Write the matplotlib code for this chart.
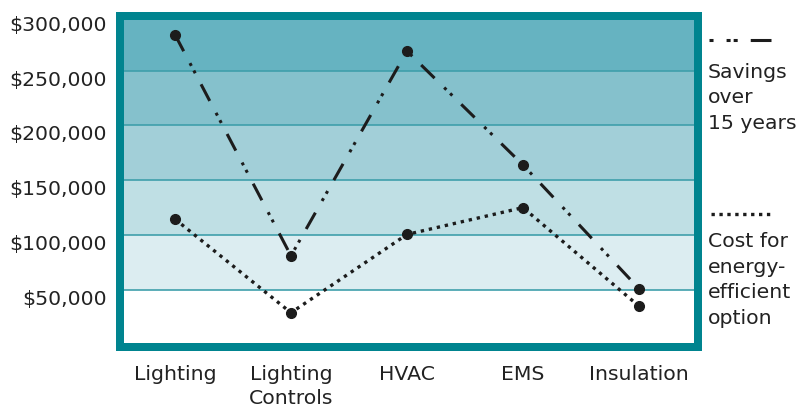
import matplotlib
matplotlib.use("Agg")
import matplotlib.pyplot as plt
from matplotlib.transforms import ScaledTranslation

# --- Dados ---
categorias = ["Lighting", "Lighting\nControls", "HVAC", "EMS", "Insulation"]
economia_15_anos = [283000, 81000, 268000, 164000, 51000]
custo_eficiente = [114500, 29000, 100500, 125000, 35000]
ticks_y = [50000, 100000, 150000, 200000, 250000, 300000]
rotulos_y = ["$50,000", "$100,000", "$150,000", "$200,000", "$250,000", "$300,000"]
faixas = [0, 50000, 100000, 150000, 200000, 250000, 310000]
cores_faixas = ["#ffffff", "#dcedf1", "#bfdfe4", "#a2cfd8", "#85c1cc", "#66b3c1"]

plt.rcParams['font.family'] = ['DejaVu Sans']
plt.rcParams['lines.scale_dashes'] = False

TEAL = "#00848f"
GRID = "#3f9fab"
PRETO = "#1c1c1c"
TXT = "#222222"
FS = 14.7

fig = plt.figure(figsize=(8, 4.11), dpi=100)
ax = fig.add_axes([120 / 800, 64 / 411, 578 / 800, 331 / 411])
ax.set_xlim(-0.474, 4.509)
ax.set_ylim(-2300, 300000)

# Faixas de fundo
for i in range(len(cores_faixas)):
    ax.axhspan(faixas[i], faixas[i + 1], color=cores_faixas[i], lw=0, zorder=0)

# Linhas de grade
for v in ticks_y[:-1]:
    ax.axhline(v, color=GRID, lw=1.2, zorder=1)

x = list(range(len(categorias)))

# Economia: traço-ponto-ponto
ax.plot(x, economia_15_anos, color=PRETO, lw=2.2,
        linestyle=(0, (13.5, 9.7, 2.2, 3.8, 2.2, 9.0)),
        marker='o', markersize=7, zorder=3)

# Custo: pontilhado
ax.plot(x, custo_eficiente, color=PRETO, lw=2.4,
        linestyle=(0, (2.4, 3.5)),
        marker='o', markersize=7, zorder=3)

# Moldura
for s in ax.spines.values():
    s.set_color(TEAL)
    s.set_linewidth(5.76)
    s.set_capstyle('projecting')
    s.set_zorder(5)

ax.set_xticks(x)
ax.set_xticklabels(categorias, fontsize=FS, color=TXT, linespacing=1.3)
ax.set_yticks(ticks_y)
ax.set_yticklabels(rotulos_y, fontsize=FS, color=TXT)
ax.tick_params(axis='both', length=0)
ax.tick_params(axis='x', pad=13)
ax.tick_params(axis='y', pad=9.5)

# rótulos do eixo y ficam um pouco abaixo da linha
desloc = ScaledTranslation(0, -7.5 / 100, fig.dpi_scale_trans)
for lab in ax.get_yticklabels():
    lab.set_transform(lab.get_transform() + desloc)

# --- Legenda manual à direita ---
def px(xp, yp):
    return xp / 800, 1 - yp / 411

x0, y0 = px(709, 40.5)
x1, _ = px(771, 40.5)
fig.add_artist(plt.Line2D([x0, x1], [y0, y0], color=PRETO, lw=2.2,
                          linestyle=(0, (2.9, 9.4, 2.9, 2.2, 2.9, 9.4, 15.5, 50))))
x0, y0 = px(711, 214)
x1, _ = px(772, 214)
fig.add_artist(plt.Line2D([x0, x1], [y0, y0], color=PRETO, lw=2.4,
                          linestyle=(0, (2.4, 3.3))))

for texto, yb in [("Savings", 78), ("over", 103), ("15 years", 129)]:
    fig.text(708 / 800, 1 - yb / 411, texto, fontsize=FS, color=TXT, va='baseline')
for texto, yb in [("Cost for", 247), ("energy-", 272.5), ("efficient", 298), ("option", 323.5)]:
    fig.text(708 / 800, 1 - yb / 411, texto, fontsize=FS, color=TXT, va='baseline')

plt.savefig("out.png", dpi=100)
plt.close()
